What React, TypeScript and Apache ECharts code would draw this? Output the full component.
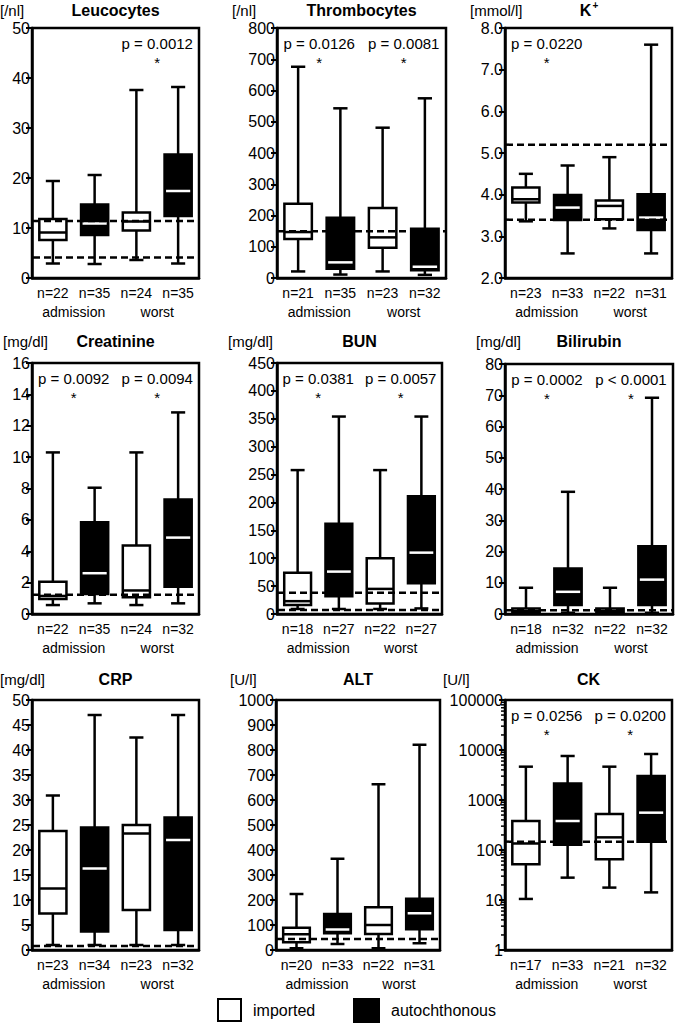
import React, { useEffect, useRef } from "react";
import * as echarts from "echarts";

const FONT = '"Liberation Sans", Arial, Helvetica, sans-serif';

// Each box: [min, Q1, median, Q3, max]
// Order: imported (admission), autochthonous (admission), imported (worst), autochthonous (worst)
const leucocytesBoxes = [
  [2.9, 7.6, 9.1, 11.8, 19.4],
  [2.8, 8.6, 10.9, 14.7, 20.6],
  [3.6, 9.5, 11.3, 13.1, 37.6],
  [2.9, 12.4, 17.4, 24.7, 38.2],
];
const leucocytesN = ["n=22", "n=35", "n=24", "n=35"];
const leucocytesRef = [11.4, 4.1];
const leucocytesP = ["", "p = 0.0012"];

const thrombocytesBoxes = [
  [21, 125, 147, 238, 676],
  [11, 30, 50, 193, 543],
  [21, 97, 130, 224, 481],
  [10, 25, 36, 158, 575],
];
const thrombocytesN = ["n=21", "n=35", "n=23", "n=32"];
const thrombocytesRef = [150];
const thrombocytesP = ["p = 0.0126", "p = 0.0081"];

const potassiumBoxes = [
  [3.36, 3.81, 3.89, 4.17, 4.5],
  [2.59, 3.39, 3.69, 3.99, 4.7],
  [3.19, 3.41, 3.73, 3.86, 4.9],
  [2.59, 3.15, 3.45, 4.01, 7.6],
];
const potassiumN = ["n=23", "n=33", "n=22", "n=31"];
const potassiumRef = [5.2, 3.4];
const potassiumP = ["p = 0.0220", ""];

const creatinineBoxes = [
  [0.57, 0.96, 1.15, 2.06, 10.3],
  [0.68, 1.28, 2.6, 5.85, 8.05],
  [0.57, 1.06, 1.5, 4.36, 10.3],
  [0.68, 1.74, 4.87, 7.3, 12.85],
];
const creatinineN = ["n=22", "n=35", "n=24", "n=32"];
const creatinineRef = [1.23];
const creatinineP = ["p = 0.0092", "p = 0.0094"];

const bunBoxes = [
  [9, 16, 23, 74, 258],
  [9, 32, 76, 162, 354],
  [9, 19, 45, 100, 258],
  [10, 55, 110, 211, 354],
];
const bunN = ["n=18", "n=27", "n=22", "n=27"];
const bunRef = [38, 7];
const bunP = ["p = 0.0381", "p = 0.0057"];

const bilirubinBoxes = [
  [0.3, 0.6, 0.9, 1.8, 8.4],
  [0.4, 2.9, 7.1, 14.6, 39.1],
  [0.3, 0.6, 0.9, 1.8, 8.4],
  [0.4, 2.9, 11.0, 21.7, 69.2],
];
const bilirubinN = ["n=18", "n=32", "n=22", "n=32"];
const bilirubinRef = [1.2];
const bilirubinP = ["p = 0.0002", "p < 0.0001"];

const crpBoxes = [
  [1.0, 7.3, 12.3, 23.8, 30.9],
  [1.0, 3.7, 16.3, 24.5, 47.0],
  [1.0, 8.0, 23.3, 25.0, 42.5],
  [1.0, 4.0, 22.0, 26.5, 47.0],
];
const crpN = ["n=23", "n=34", "n=23", "n=32"];
const crpRef = [0.8];
const crpP = ["", ""];

const altBoxes = [
  [7, 31, 63, 89, 224],
  [24, 67, 82, 144, 365],
  [7, 64, 100, 171, 663],
  [27, 83, 147, 205, 821],
];
const altN = ["n=20", "n=33", "n=22", "n=31"];
const altRef = [44];
const altP = ["", ""];

const ckBoxes = [
  [10.5, 52, 135, 380, 4640],
  [28, 128, 380, 2150, 7590],
  [17.7, 65, 179, 525, 4640],
  [14.2, 147, 558, 3020, 8320],
];
const ckN = ["n=17", "n=33", "n=21", "n=32"];
const ckRef = [147];
const ckP = ["p = 0.0256", "p = 0.0200"];

const groupLabels = ["admission", "worst"];
const legendLabels = ["imported", "autochthonous"];

const panels = [
  { title: "Leucocytes", unit: "[/nl]", boxes: leucocytesBoxes, n: leucocytesN, ref: leucocytesRef, p: leucocytesP, min: 0, max: 50, interval: 10 },
  { title: "Thrombocytes", unit: "[/nl]", boxes: thrombocytesBoxes, n: thrombocytesN, ref: thrombocytesRef, p: thrombocytesP, min: 0, max: 800, interval: 100 },
  { title: "K", sup: "+", unit: "[mmol/l]", boxes: potassiumBoxes, n: potassiumN, ref: potassiumRef, p: potassiumP, min: 2, max: 8, interval: 1, decimals: 1 },
  { title: "Creatinine", unit: "[mg/dl]", boxes: creatinineBoxes, n: creatinineN, ref: creatinineRef, p: creatinineP, min: 0, max: 16, interval: 2 },
  { title: "BUN", unit: "[mg/dl]", boxes: bunBoxes, n: bunN, ref: bunRef, p: bunP, min: 0, max: 450, interval: 50 },
  { title: "Bilirubin", unit: "[mg/dl]", boxes: bilirubinBoxes, n: bilirubinN, ref: bilirubinRef, p: bilirubinP, min: 0, max: 80, interval: 10 },
  { title: "CRP", unit: "[mg/dl]", boxes: crpBoxes, n: crpN, ref: crpRef, p: crpP, min: 0, max: 50, interval: 5 },
  { title: "ALT", unit: "[U/l]", boxes: altBoxes, n: altN, ref: altRef, p: altP, min: 0, max: 1000, interval: 100 },
  { title: "CK", unit: "[U/l]", boxes: ckBoxes, n: ckN, ref: ckRef, p: ckP, min: 1, max: 100000, log: true },
];

// layout: [left, top, width, height], title center y, unit left x
const layout = [
  { g: [32, 28, 167, 250], ty: 10, ux: 0 },
  { g: [277, 28, 169, 250], ty: 10, ux: 232 },
  { g: [505, 28, 167, 250], ty: 10, ux: 470 },
  { g: [32, 363, 167, 251], ty: 341, ux: 3 },
  { g: [277, 363, 165, 251], ty: 341, ux: 228 },
  { g: [505, 364, 168, 250], ty: 341, ux: 476 },
  { g: [32, 700, 167, 250], ty: 679, ux: 0 },
  { g: [276, 700, 164, 250], ty: 679, ux: 230 },
  { g: [505, 700, 167, 250], ty: 679, ux: 443 },
];

const LW = 2.5;

function buildOption() {
  const grid: any[] = [];
  const xAxis: any[] = [];
  const yAxis: any[] = [];
  const series: any[] = [];
  const graphic: any[] = [];

  panels.forEach((pn: any, i: number) => {
    const [left, top, width, height] = layout[i].g;
    grid.push({ left, top, width, height, show: true, borderColor: "#000", borderWidth: LW, backgroundColor: "transparent" });

    xAxis.push({
      gridIndex: i,
      type: "category",
      data: ["0", "1", "2", "3"],
      axisLine: { show: true, lineStyle: { color: "#000", width: LW } },
      axisTick: { show: false },
      axisLabel: {
        show: true,
        interval: 0,
        margin: 8,
        color: "#000",
        fontFamily: FONT,
        fontSize: 14,
        formatter: (_v: string, idx: number) => pn.n[idx],
      },
      splitLine: { show: false },
    });
    xAxis.push({
      gridIndex: i,
      type: "category",
      data: groupLabels,
      position: "bottom",
      offset: 19,
      axisLine: { show: false },
      axisTick: { show: false },
      axisLabel: { interval: 0, margin: 8, color: "#000", fontFamily: FONT, fontSize: 14 },
      splitLine: { show: false },
    });

    const yBase: any = {
      gridIndex: i,
      min: pn.min,
      max: pn.max,
      axisLine: { show: true, lineStyle: { color: "#000", width: LW } },
      axisTick: { show: true, length: 6, lineStyle: { color: "#000", width: 2 } },
      splitLine: { show: false },
      axisLabel: {
        color: "#000",
        fontFamily: FONT,
        fontSize: 16,
        margin: 2,
        formatter: (v: number) =>
          pn.log ? String(Math.round(v)) : pn.decimals ? v.toFixed(pn.decimals) : String(v),
      },
    };
    if (pn.log) {
      yBase.type = "log";
      yBase.logBase = 10;
    } else {
      yBase.type = "value";
      yBase.interval = pn.interval;
    }
    yAxis.push(yBase);

    const xIdx = i * 2;

    // boxes
    series.push({
      type: "custom",
      xAxisIndex: xIdx,
      yAxisIndex: i,
      silent: true,
      z: 2,
      clip: false,
      encode: { x: 0, y: [1, 2, 3, 4, 5] },
      data: pn.boxes.map((b: number[], k: number) => [k, ...b, k % 2]),
      renderItem: (params: any, api: any) => {
        const cat = api.value(0);
        const vals = [1, 2, 3, 4, 5].map((d) => api.coord([cat, api.value(d)]));
        const auto = api.value(6) === 1;
        const cx = vals[0][0];
        const band = params.coordSys.width / 4;
        const bw = band * 0.65;
        const cw = bw * 0.52;
        const [pMin, pQ1, pMed, pQ3, pMax] = vals.map((v: number[]) => v[1]);
        const st = { stroke: "#000", lineWidth: LW };
        return {
          type: "group",
          children: [
            { type: "line", shape: { x1: cx, y1: pMax, x2: cx, y2: pMin }, style: st },
            { type: "line", shape: { x1: cx - cw / 2, y1: pMax, x2: cx + cw / 2, y2: pMax }, style: st },
            { type: "line", shape: { x1: cx - cw / 2, y1: pMin, x2: cx + cw / 2, y2: pMin }, style: st },
            {
              type: "rect",
              shape: { x: cx - bw / 2, y: pQ3, width: bw, height: pQ1 - pQ3 },
              style: { fill: auto ? "#000" : "#fff", stroke: "#000", lineWidth: LW },
            },
            {
              type: "line",
              shape: { x1: cx - bw / 2 + (auto ? 1.5 : 0), y1: pMed, x2: cx + bw / 2 - (auto ? 1.5 : 0), y2: pMed },
              style: { stroke: auto ? "#fff" : "#000", lineWidth: LW },
            },
          ],
        };
      },
    });

    // reference lines
    series.push({
      type: "custom",
      xAxisIndex: xIdx,
      yAxisIndex: i,
      silent: true,
      z: 3,
      clip: false,
      encode: { x: 0, y: 1 },
      data: pn.ref.map((v: number) => [0, v]),
      renderItem: (params: any, api: any) => {
        const y = api.coord([0, api.value(1)])[1];
        const cs = params.coordSys;
        return {
          type: "line",
          shape: { x1: cs.x + 1, y1: y, x2: cs.x + cs.width - 1, y2: y },
          style: { stroke: "#000", lineWidth: LW, lineDash: [7, 4] },
        };
      },
    });

    // p-values
    const pData: any[] = [];
    pn.p.forEach((t: string, g: number) => {
      if (t) pData.push([g * 2, pn.min, g]);
    });
    if (pData.length) {
      series.push({
        type: "custom",
        xAxisIndex: xIdx,
        yAxisIndex: i,
        silent: true,
        z: 4,
        clip: false,
        encode: { x: 0, y: 1 },
        data: pData,
        renderItem: (params: any, api: any) => {
          const a = api.value(0);
          const g = api.value(2);
          const x = (api.coord([a, pn.min])[0] + api.coord([a + 1, pn.min])[0]) / 2;
          const top = params.coordSys.y;
          return {
            type: "group",
            children: [
              {
                type: "text",
                x,
                y: top + 15,
                style: { text: pn.p[g], fill: "#000", font: `15px ${FONT}`, align: "center", verticalAlign: "middle" },
              },
              {
                type: "text",
                x,
                y: top + 34,
                style: { text: "*", fill: "#000", font: `15px ${FONT}`, align: "center", verticalAlign: "middle" },
              },
            ],
          };
        },
      });
    }

    // log minor ticks
    if (pn.log) {
      const minor: number[][] = [];
      for (let dec = 1; dec < pn.max; dec *= 10) {
        for (let m = 2; m <= 9; m++) minor.push([0, m * dec]);
      }
      series.push({
        type: "custom",
        xAxisIndex: xIdx,
        yAxisIndex: i,
        silent: true,
        z: 4,
        clip: false,
        encode: { x: 0, y: 1 },
        data: minor,
        renderItem: (params: any, api: any) => {
          const y = api.coord([0, api.value(1)])[1];
          const x0 = params.coordSys.x;
          return {
            type: "line",
            shape: { x1: x0 - 4, y1: y, x2: x0, y2: y },
            style: { stroke: "#000", lineWidth: 1.5 },
          };
        },
      });
    }

    // title and unit
    const cx = left + width / 2;
    if (pn.sup) {
      graphic.push({
        type: "text",
        x: cx - 3,
        y: layout[i].ty,
        style: { text: pn.title, fill: "#000", font: `bold 16px ${FONT}`, align: "center", verticalAlign: "middle" },
      });
      graphic.push({
        type: "text",
        x: cx + 7,
        y: layout[i].ty - 5,
        style: { text: pn.sup, fill: "#000", font: `bold 10px ${FONT}`, align: "center", verticalAlign: "middle" },
      });
    } else {
      graphic.push({
        type: "text",
        x: cx,
        y: layout[i].ty,
        style: { text: pn.title, fill: "#000", font: `bold 16px ${FONT}`, align: "center", verticalAlign: "middle" },
      });
    }
    graphic.push({
      type: "text",
      x: layout[i].ux,
      y: layout[i].ty,
      style: { text: pn.unit, fill: "#000", font: `15px ${FONT}`, align: "left", verticalAlign: "middle" },
    });
  });

  // legend
  graphic.push({
    type: "rect",
    shape: { x: 218, y: 999, width: 23, height: 22 },
    style: { fill: "#fff", stroke: "#000", lineWidth: 2 },
  });
  graphic.push({
    type: "text",
    x: 253,
    y: 1010,
    style: { text: legendLabels[0], fill: "#000", font: `16px ${FONT}`, align: "left", verticalAlign: "middle" },
  });
  graphic.push({
    type: "rect",
    shape: { x: 353, y: 998, width: 27, height: 25 },
    style: { fill: "#000", stroke: "#000", lineWidth: 0 },
  });
  graphic.push({
    type: "text",
    x: 391,
    y: 1010,
    style: { text: legendLabels[1], fill: "#000", font: `16px ${FONT}`, align: "left", verticalAlign: "middle" },
  });

  return {
    animation: false,
    backgroundColor: "#fff",
    grid,
    xAxis,
    yAxis,
    series,
    graphic,
  };
}

export default function App() {
  const ref = useRef<HTMLDivElement>(null);
  useEffect(() => {
    document.body.style.margin = "0";
    if (!ref.current) return;
    const chart = echarts.init(ref.current, undefined, { renderer: "svg" });
    chart.setOption(buildOption() as any);
    return () => {
      chart.dispose();
    };
  }, []);
  return <div ref={ref} style={{ width: 675, height: 1023 }} />;
}
